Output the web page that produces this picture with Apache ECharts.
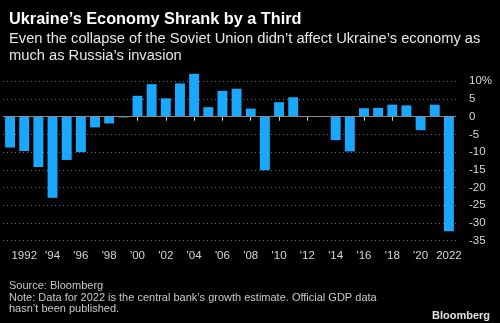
<!DOCTYPE html>
<html><head><meta charset="utf-8">
<script src="https://cdn.jsdelivr.net/npm/echarts@6/dist/echarts.min.js"></script>
<style>html,body{margin:0;padding:0;background:#000;}#c{width:500px;height:323px;}</style>
</head><body><div id="c"></div>
<script>
const years = [1991,1992,1993,1994,1995,1996,1997,1998,1999,2000,2001,2002,2003,2004,2005,2006,2007,2008,2009,2010,2011,2012,2013,2014,2015,2016,2017,2018,2019,2020,2021,2022];
const growth = [-8.7,-9.7,-14.2,-22.9,-12.2,-10.0,-3.0,-1.9,-0.2,5.9,9.2,5.2,9.4,12.1,2.7,7.3,7.9,2.3,-15.1,4.1,5.5,0.2,0.0,-6.6,-9.8,2.4,2.5,3.4,3.2,-3.8,3.4,-32.3];
const yTicks = {min:-35, max:10, step:5};
function yearLabel(y){ return (y===1992||y===2022) ? String(y) : "'" + String(y).slice(2); }
const FONT = '"Liberation Sans", Arial, sans-serif';
const chart = echarts.init(document.getElementById('c'), null, {renderer:'canvas'});
chart.setOption({
  backgroundColor:'#000',
  animation:false,
  title:[
    {text:"Ukraine\u2019s Economy Shrank by a Third", left:4, top:7,
     textStyle:{color:'#fff', fontSize:16.3, fontWeight:'bold', fontFamily:FONT}},
    {text:"Even the collapse of the Soviet Union didn\u2019t affect Ukraine\u2019s economy as\nmuch as Russia\u2019s invasion", left:4, top:26,
     textStyle:{color:'#e6e6e6', fontSize:14.7, fontWeight:'normal', lineHeight:16.5, fontFamily:FONT}},
    {text:"Source: Bloomberg\nNote: Data for 2022 is the central bank\u2019s growth estimate. Official GDP data\nhasn\u2019t been published.", left:4, top:275,
     textStyle:{color:'#c8c8c8', fontSize:11, fontWeight:'normal', lineHeight:11.7, fontFamily:FONT}},
    {text:"Bloomberg", right:5, top:305,
     textStyle:{color:'#e0e0e0', fontSize:11, fontWeight:'bold', fontFamily:FONT}}
  ],
  grid:{left:3, right:44, top:81.3, bottom:82.3},
  xAxis:{
    type:'category', data:years,
    axisLine:{show:false},
    axisTick:{show:true, alignWithLabel:true, interval:(i)=>i%2===1, length:4, lineStyle:{color:'#cfcfcf'}},
    axisLabel:{interval:(i)=>i%2===1, formatter:(v)=>yearLabel(+v), color:'#d6d6d6', fontSize:11.5, fontFamily:FONT, margin:9}
  },
  yAxis:{
    type:'value', position:'right', min:yTicks.min, max:yTicks.max, interval:yTicks.step,
    axisLine:{show:false}, axisTick:{show:false},
    axisLabel:{formatter:(v)=> v===10 ? '10%' : String(v), color:'#d6d6d6', fontSize:11.5, fontFamily:FONT, align:'left', margin:13},
    splitLine:{show:true, lineStyle:{color:'#6a6a6a', type:[1,3], width:1}}
  },
  series:[{
    type:'bar', data:growth, barCategoryGap:'30%', clip:false,
    itemStyle:{color:'#1aa8ff'},
    markLine:{silent:true, symbol:'none', label:{show:false}, lineStyle:{color:'#8a8a8a', type:'solid', width:1}, data:[{yAxis:0}]}
  }]
});
</script></body></html>
